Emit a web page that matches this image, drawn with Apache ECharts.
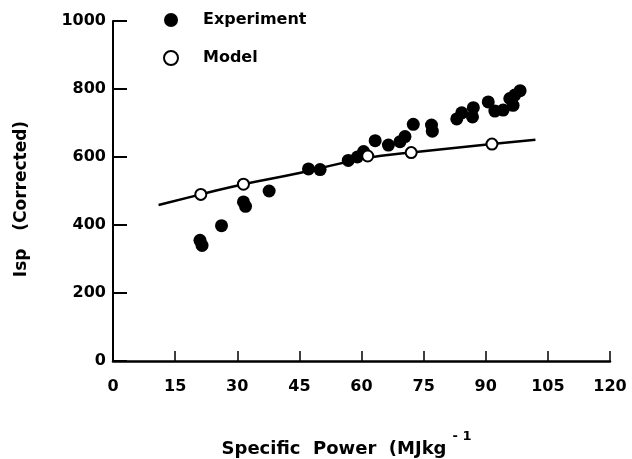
<!DOCTYPE html>
<html>
<head>
<meta charset="utf-8">
<script src="https://cdn.jsdelivr.net/npm/echarts@6/dist/echarts.min.js"></script>
<style>html,body{margin:0;padding:0;background:#fff;}#c{width:632px;height:459px;}</style>
</head>
<body>
<div id="c"></div>
<script>
// Experiment: [specific power, Isp]
var experimentPoints = [
  [21, 355], [21.5, 340], [26.2, 398], [31.5, 468], [32, 455], [37.7, 500],
  [47.2, 565], [50, 563], [56.8, 590], [59, 600], [60.5, 616], [63.3, 648],
  [66.5, 635], [69.3, 645], [70.5, 660], [72.5, 696], [76.9, 694], [77.1, 676],
  [83, 712], [84.2, 730], [86.8, 718], [87, 745], [90.6, 762], [92.2, 735],
  [94.2, 738], [95.8, 772], [96.6, 752], [97, 782], [98.3, 795]
];
// Model points (open circles)
var modelPoints = [[21.2, 490], [31.5, 520], [61.5, 603], [72, 613], [91.5, 638]];
// Model curve
var modelCurve = [[11, 459], [21.2, 490], [31.5, 520], [45, 553], [61.5, 598], [72, 613], [91.5, 638], [102, 651]];
var xTicks = [0, 15, 30, 45, 60, 75, 90, 105, 120];
var yTicks = [0, 200, 400, 600, 800, 1000];

var FONT = 'DejaVu Sans';
var chart = echarts.init(document.getElementById('c'), null, {renderer: 'canvas'});
chart.setOption({
  animation: false,
  backgroundColor: '#fff',
  textStyle: {fontFamily: FONT},
  grid: {left: 113, right: 22, top: 21, bottom: 98, containLabel: false, outerBoundsMode: 'none'},
  legend: {
    orient: 'vertical', left: 158, top: 7, itemWidth: 14, itemHeight: 14, itemGap: 22,
    data: ['Experiment', 'Model'],
    textStyle: {fontFamily: FONT, fontWeight: 'bold', fontSize: 16, color: '#000', padding: [0, 0, 0, 20]}
  },
  xAxis: {
    type: 'value', min: xTicks[0], max: xTicks[xTicks.length - 1], interval: 15,
    splitLine: {show: false},
    axisLine: {lineStyle: {color: '#000', width: 2.5}},
    axisTick: {inside: true, length: 10, lineStyle: {color: '#000', width: 1.5}},
    axisLabel: {margin: 18, color: '#000', fontFamily: FONT, fontWeight: 'bold', fontSize: 16},
    name: '{a|Specific  Power  (MJkg}{s|- 1}',
    nameLocation: 'middle', nameGap: 73,
    nameTextStyle: {
      padding: [0, 30, 0, 0],
      rich: {
        a: {fontFamily: FONT, fontWeight: 'bold', fontSize: 18, color: '#000', verticalAlign: 'bottom', lineHeight: 24},
        s: {fontFamily: FONT, fontWeight: 'bold', fontSize: 13, color: '#000', padding: [0, 0, 15, 6], verticalAlign: 'bottom', lineHeight: 24}
      }
    }
  },
  yAxis: {
    type: 'value', min: yTicks[0], max: yTicks[yTicks.length - 1], interval: 200,
    splitLine: {show: false},
    axisLine: {show: true, lineStyle: {color: '#000', width: 2}},
    axisTick: {show: true, inside: true, length: 14, lineStyle: {color: '#000', width: 2}},
    axisLabel: {margin: 7, color: '#000', fontFamily: FONT, fontWeight: 'bold', fontSize: 16,
      formatter: function (v) { return String(v); }},
    name: 'Isp   (Corrected)',
    nameLocation: 'middle', nameGap: 83,
    nameTextStyle: {fontFamily: FONT, fontWeight: 'bold', fontSize: 17, color: '#000', padding: [0, 16, 0, 0]}
  },
  series: [
    {
      name: 'Model curve', type: 'line', data: modelCurve, smooth: true,
      showSymbol: false, symbol: 'none',
      lineStyle: {color: '#000', width: 2.5}, z: 2
    },
    {
      name: 'Experiment', type: 'scatter', data: experimentPoints, symbol: 'circle', symbolSize: 13,
      itemStyle: {color: '#000', opacity: 1}, z: 3
    },
    {
      name: 'Model', type: 'scatter', data: modelPoints, symbol: 'circle', symbolSize: 11,
      itemStyle: {color: '#fff', borderColor: '#000', borderWidth: 2, opacity: 1}, z: 4
    }
  ]
});
</script>
</body>
</html>
